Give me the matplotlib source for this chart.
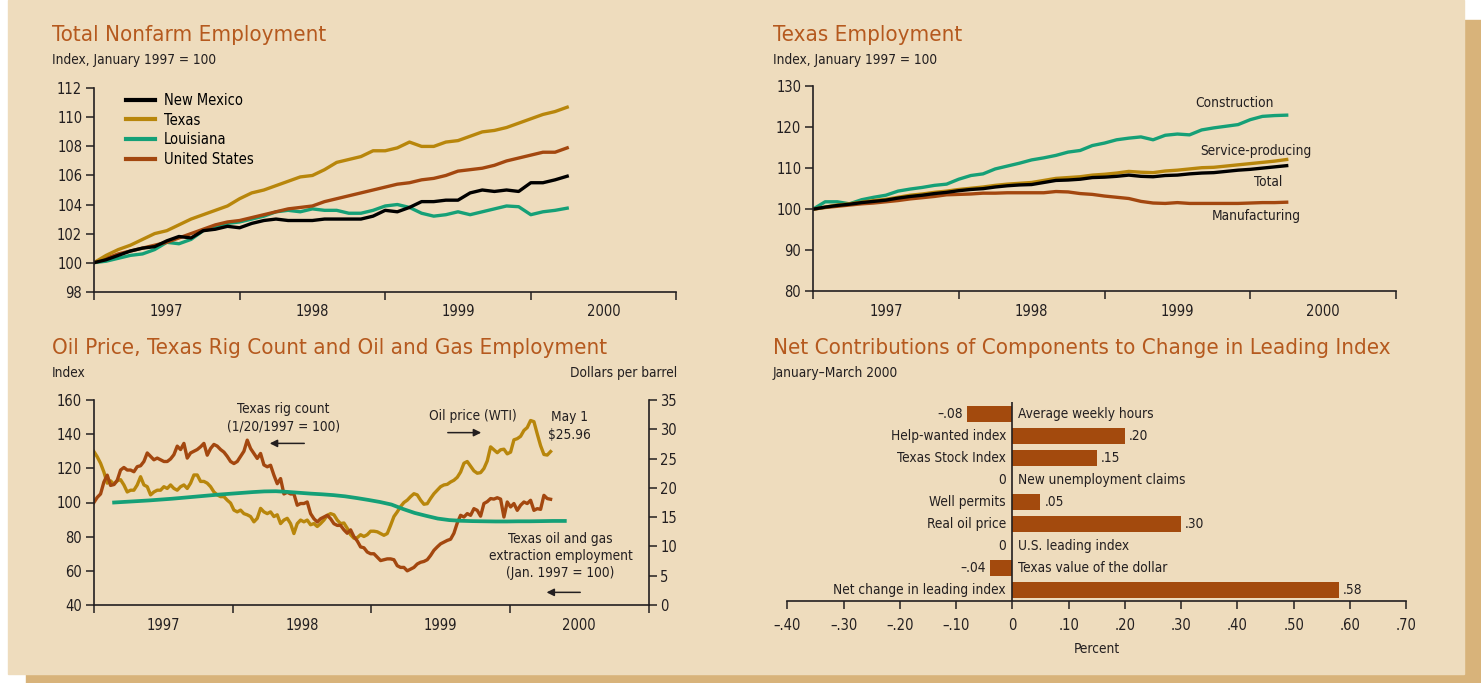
import numpy as np
import matplotlib
matplotlib.use("Agg")
import matplotlib.pyplot as plt
import matplotlib.font_manager as fm
from matplotlib.patches import Rectangle

narrow = [f for f in fm.fontManager.ttflist
          if (f.stretch in ('condensed', 'semi-condensed') or 'Narrow' in f.name
              or 'Condensed' in f.name) and f.style == 'normal'
          and f.weight in (400, 'normal', 'regular')]
if narrow:
    plt.rcParams['font.family'] = [narrow[0].name, 'DejaVu Sans']
    plt.rcParams['font.stretch'] = narrow[0].stretch
else:
    plt.rcParams['font.family'] = ['Roboto', 'DejaVu Sans']

W, H = 1481, 683
bg = '#EEDCBD'
shadow = '#D8B37A'
title_col = '#B5591E'
gold = '#B8860B'
rust = '#A3470F'
green = '#15A077'
ink = '#231F20'

# ---- Total nonfarm employment, monthly index (Jan 1997 = 100)
months = np.arange(40)
new_mexico = [100.0, 100.2, 100.5, 100.8, 101.0, 101.1, 101.5, 101.8, 101.7, 102.2,
              102.3, 102.5, 102.4, 102.7, 102.9, 103.0, 102.9, 102.9, 102.9, 103.0,
              103.0, 103.0, 103.0, 103.2, 103.6, 103.5, 103.8, 104.2, 104.2, 104.3,
              104.3, 104.8, 105.0, 104.9, 105.0, 104.9, 105.5, 105.5, 105.7, 105.95]
texas = [100.0, 100.5, 100.9, 101.2, 101.6, 102.0, 102.2, 102.6, 103.0, 103.3,
         103.6, 103.9, 104.4, 104.8, 105.0, 105.3, 105.6, 105.9, 106.0, 106.4,
         106.9, 107.1, 107.3, 107.7, 107.7, 107.9, 108.3, 108.0, 108.0, 108.3,
         108.4, 108.7, 109.0, 109.1, 109.3, 109.6, 109.9, 110.2, 110.4, 110.7]
louisiana = [100.0, 100.1, 100.3, 100.5, 100.6, 100.9, 101.4, 101.3, 101.6, 102.2,
             102.4, 102.7, 102.8, 103.0, 103.2, 103.5, 103.6, 103.5, 103.7, 103.6,
             103.6, 103.4, 103.4, 103.6, 103.9, 104.0, 103.8, 103.4, 103.2, 103.3,
             103.5, 103.3, 103.5, 103.7, 103.9, 103.85, 103.3, 103.5, 103.6, 103.75]
united_states = [100.0, 100.3, 100.6, 100.8, 101.0, 101.2, 101.4, 101.7, 102.0, 102.3,
                 102.6, 102.8, 102.9, 103.1, 103.3, 103.5, 103.7, 103.8, 103.9, 104.2,
                 104.4, 104.6, 104.8, 105.0, 105.2, 105.4, 105.5, 105.7, 105.8, 106.0,
                 106.3, 106.4, 106.5, 106.7, 107.0, 107.2, 107.4, 107.6, 107.6, 107.9]

# ---- Texas employment by sector
tx_construction = [100.0, 101.8, 101.8, 101.3, 102.3, 102.9, 103.4, 104.4, 104.9, 105.3,
                   105.8, 106.1, 107.3, 108.2, 108.6, 109.8, 110.5, 111.2, 112.0, 112.5,
                   113.1, 113.9, 114.3, 115.5, 116.1, 116.9, 117.3, 117.6, 116.9, 118.0,
                   118.3, 118.1, 119.3, 119.8, 120.2, 120.6, 121.8, 122.6, 122.8, 122.9]
tx_service = [100.0, 100.5, 101.0, 101.3, 101.7, 102.1, 102.4, 102.9, 103.4, 103.7,
              104.1, 104.4, 104.8, 105.1, 105.4, 105.8, 106.1, 106.3, 106.5, 107.0,
              107.5, 107.7, 107.9, 108.3, 108.5, 108.8, 109.2, 109.0, 108.9, 109.3,
              109.5, 109.8, 110.1, 110.2, 110.5, 110.8, 111.1, 111.4, 111.7, 112.1]
tx_total = [100.0, 100.5, 100.9, 101.2, 101.6, 101.9, 102.2, 102.7, 103.1, 103.4,
            103.8, 104.1, 104.5, 104.8, 105.0, 105.4, 105.7, 105.9, 106.0, 106.5,
            107.0, 107.1, 107.3, 107.7, 107.8, 108.0, 108.3, 108.0, 107.9, 108.2,
            108.3, 108.6, 108.8, 108.9, 109.2, 109.5, 109.7, 110.0, 110.3, 110.6]
tx_manufacturing = [100.0, 100.4, 100.7, 101.0, 101.3, 101.5, 101.8, 102.1, 102.5, 102.8,
                    103.1, 103.5, 103.6, 103.7, 103.9, 103.9, 104.0, 104.0, 104.0, 104.0,
                    104.3, 104.2, 103.8, 103.6, 103.2, 102.9, 102.6, 101.9, 101.5, 101.4,
                    101.6, 101.4, 101.4, 101.4, 101.4, 101.4, 101.5, 101.6, 101.6, 101.7]

# ---- Oil price, rig count (sampled every 1.25 weeks from Jan 1997)
rig_count = [100, 103, 105, 112, 116, 110, 110.5, 113, 119, 120.5,
             119, 119, 118, 121, 121.5, 124, 129, 127, 125, 126,
             125, 124, 124, 125.5, 128, 133, 131, 134.6, 126, 129,
             130, 131, 132.6, 134.6, 127.7, 131.6, 134, 133, 131, 129.5,
             127, 124, 122.8, 124, 127, 130, 136.5, 131.6, 128.7, 125.8,
             128.7, 122, 120.9, 121.8, 116, 111, 114, 105, 106, 105,
             105, 98.4, 99.4, 99.4, 100.3, 93.5, 90.5, 88.6, 90.5, 91.5,
             92.5, 90.5, 87.6, 86.6, 86.6, 84, 82,
             84, 80, 77.5, 74, 73.5, 71, 70, 70, 68, 66,
             66.5, 67, 67, 66.5, 63, 62, 62, 60, 61, 62,
             64, 65, 65.5, 66.5, 69, 72, 74, 75.8, 76.8, 77.8,
             78.5, 82, 88, 92.5, 91.5, 93.5, 92.5, 96.4, 95.4, 92,
             99.4, 100.5, 102.3, 102, 102.8, 102, 91.5, 100.3, 97.4, 99.4,
             95.4, 98.4, 100.3, 99.4, 101.3, 95.4, 96.4, 96, 104.2, 102.3,
             101.9]
oil_price = [26.2, 25.3, 24.2, 22.7, 20.8, 21.2, 20.6, 21.2, 21.4, 20.5,
             19.3, 19.6, 19.6, 20.5, 21.9, 20.5, 20.2, 18.8, 19.3, 19.6,
             19.6, 20.2, 19.9, 20.5, 19.9, 19.6, 20.2, 20.5, 19.9, 20.8,
             22.2, 22.2, 21.1, 21.1, 20.8, 20.2, 19.3, 18.8, 18.5, 18.5,
             17.9, 17.4, 16.2, 15.9, 16.2, 15.6, 15.4, 15.1, 14.2, 14.8,
             16.5, 15.9, 15.6, 15.9, 15.1, 15.4, 13.9, 14.5, 14.8, 13.9,
             12.2, 13.9, 14.5, 14.2, 14.5, 13.7, 13.9, 13.4, 13.9, 14.5,
             15.3, 15.6, 15.4, 14.5, 13.9, 14.0, 13.1,
             12.0, 11.4, 11.5, 12.0, 11.7, 12.0, 12.6, 12.6, 12.5, 12.2,
             11.9, 12.2, 13.6, 15.1, 15.9, 16.8, 17.5, 17.9, 18.5, 19.0,
             18.8, 17.9, 17.2, 17.3, 18.2, 19.0, 19.6, 20.2, 20.5, 20.6,
             21.0, 21.3, 21.8, 22.7, 24.2, 24.5, 23.7, 22.9, 22.5, 22.6,
             23.3, 24.6, 27.0, 26.5, 26.0, 26.5, 26.6, 25.8, 26.1, 28.2,
             28.4, 28.8, 29.8, 30.3, 31.5, 31.3, 29.2, 27.2, 25.7, 25.6,
             26.2]
# monthly oil and gas extraction employment, from Feb 1997
oil_gas_emp = [100.0, 100.4, 100.8, 101.2, 101.7, 102.2, 102.8, 103.4, 104.0, 104.6,
               105.1, 105.6, 106.1, 106.5, 106.6, 106.2, 105.7, 105.2, 104.8, 104.3,
               103.6, 102.6, 101.5, 100.3, 98.8, 96.2, 93.9, 92.2, 90.6, 89.7,
               89.3, 89.1, 89.0, 88.9, 88.9, 89.0, 89.0, 89.1, 89.2, 89.2]

# ---- Leading index components, Jan-Mar 2000
components = ['Average weekly hours', 'Help-wanted index', 'Texas Stock Index',
              'New unemployment claims', 'Well permits', 'Real oil price',
              'U.S. leading index', 'Texas value of the dollar', 'Net change in leading index']
contrib = [-0.08, 0.20, 0.15, 0.0, 0.05, 0.30, 0.0, -0.04, 0.58]
contrib_text = ['–.08', '.20', '.15', '0', '.05', '.30', '0', '–.04', '.58']
pct_ticks = [-0.4, -0.3, -0.2, -0.1, 0, 0.1, 0.2, 0.3, 0.4, 0.5, 0.6, 0.7]
pct_labels = ['–.40', '–.30', '–.20', '–.10', '0', '.10', '.20', '.30', '.40', '.50', '.60', '.70']
years = ['1997', '1998', '1999', '2000']

fs = 10.5      # tick labels, legend
afs = 9.8      # subtitles and annotations
tfs = 16
lw = 2.4

fig = plt.figure(figsize=(W / 100, H / 100), dpi=100, facecolor='white')
fig.patches.append(Rectangle((26 / W, 0), (W - 26) / W, (H - 20) / H,
                             transform=fig.transFigure, color=shadow, zorder=-10))
fig.patches.append(Rectangle((8 / W, 9 / H), (1464 - 8) / W, 674 / H,
                             transform=fig.transFigure, color=bg, zorder=-9))


def style(ax, right=False):
    ax.set_facecolor('none')
    ax.spines['top'].set_visible(False)
    if not right:
        ax.spines['right'].set_visible(False)
    for s in ax.spines.values():
        s.set_linewidth(1.2)
        s.set_color(ink)
    ax.tick_params(axis='y', direction='out', length=5.5, width=1.1, pad=3,
                   labelsize=fs, colors=ink)
    ax.tick_params(axis='x', which='major', direction='out', length=6, width=1.1,
                   labelbottom=False, colors=ink)
    ax.tick_params(axis='x', which='minor', length=0, pad=9, labelsize=fs, colors=ink)


def header(x, y, title, sub):
    fig.text(x / W, 1 - y / H, title, fontsize=tfs, color=title_col, va='center')
    fig.text(x / W, 1 - (y + 25) / H, sub, fontsize=afs, color=ink, va='center')


# panel 1
ax1 = fig.add_axes([94 / W, 391.3 / H, 582.4 / W, 203.4 / H])
style(ax1)
ax1.plot(months, louisiana, color=green, lw=lw, label='Louisiana')
ax1.plot(months, united_states, color=rust, lw=lw, label='United States')
ax1.plot(months, texas, color=gold, lw=lw, label='Texas')
ax1.plot(months, new_mexico, color='black', lw=lw, label='New Mexico')
ax1.set_xlim(0, 48)
ax1.set_ylim(98, 112)
ax1.set_yticks(range(98, 113, 2))
ax1.set_xticks([0, 12, 24, 36, 48])
ax1.set_xticks([6, 18, 30, 42], years, minor=True)
h, l = ax1.get_legend_handles_labels()
order = [3, 2, 0, 1]
leg = ax1.legend([h[i] for i in order], [l[i] for i in order], loc='upper left',
                 bbox_to_anchor=(0.055, 0.978), frameon=False, fontsize=fs,
                 handlelength=2.0, handletextpad=0.6, labelspacing=0.33,
                 borderpad=0, borderaxespad=0)
for ln in leg.get_lines():
    ln.set_linewidth(3.0)
header(52, 35, 'Total Nonfarm Employment', 'Index, January 1997 = 100')

# panel 2
ax2 = fig.add_axes([813 / W, 391.7 / H, 583 / W, 205.3 / H])
style(ax2)
ax2.plot(months, tx_manufacturing, color=rust, lw=lw)
ax2.plot(months, tx_construction, color=green, lw=lw)
ax2.plot(months, tx_service, color=gold, lw=lw)
ax2.plot(months, tx_total, color='black', lw=lw)
ax2.set_xlim(0, 48)
ax2.set_ylim(80, 130)
ax2.set_yticks(range(80, 131, 10))
ax2.set_xticks([0, 12, 24, 36, 48])
ax2.set_xticks([6, 18, 30, 42], years, minor=True)
ax2.text(37.95, 125.9, 'Construction', ha='right', va='center', fontsize=afs, color=ink)
ax2.text(31.9, 114.2, 'Service-producing', ha='left', va='center', fontsize=afs, color=ink)
ax2.text(36.3, 106.7, 'Total', ha='left', va='center', fontsize=afs, color=ink)
ax2.text(32.8, 98.3, 'Manufacturing', ha='left', va='center', fontsize=afs, color=ink)
header(773, 35, 'Texas Employment', 'Index, January 1997 = 100')

# panel 3
ax3 = fig.add_axes([93.9 / W, 78 / H, 554.7 / W, 205 / H])
ax3r = ax3.twinx()
style(ax3)
style(ax3r, right=True)
ax3r.spines['left'].set_visible(False)
ax3r.spines['bottom'].set_visible(False)
ax3.set_zorder(ax3r.get_zorder() + 1)
t_week = np.arange(len(rig_count)) * 1.25 / 52
t_emp = (1.75 + np.arange(len(oil_gas_emp))) / 12
ax3r.plot(t_week, oil_price, color=gold, lw=lw)
ax3.plot(t_week, rig_count, color=rust, lw=lw)
ax3.plot(t_emp, oil_gas_emp, color=green, lw=2.7)
ax3.set_xlim(0, 4)
ax3.set_ylim(40, 160)
ax3.set_yticks(range(40, 161, 20))
ax3r.set_ylim(0, 35)
ax3r.set_yticks(range(0, 36, 5))
ax3.set_xticks([0, 1, 2, 3, 4])
ax3.set_xticks([0.5, 1.5, 2.5, 3.5], years, minor=True)
arrow = dict(arrowstyle='-|>', color=ink, lw=1.1, mutation_scale=11)
ax3.text(1.366, 149.8, 'Texas rig count\n(1/20/1997 = 100)', ha='center', va='center',
         fontsize=afs, color=ink, linespacing=1.3)
ax3.annotate('', xy=(1.248, 134.6), xytext=(1.537, 134.6), arrowprops=arrow)
ax3.text(2.732, 150.6, 'Oil price (WTI)', ha='center', va='center', fontsize=afs, color=ink)
ax3.annotate('', xy=(2.813, 140.9), xytext=(2.532, 140.9), arrowprops=arrow)
ax3.text(3.43, 144.7, 'May 1\n$25.96', ha='center', va='center', fontsize=afs,
         color=ink, linespacing=1.3)
ax3.text(3.366, 68.7, 'Texas oil and gas\nextraction employment\n(Jan. 1997 = 100)',
         ha='center', va='center', fontsize=afs, color=ink, linespacing=1.3)
ax3.annotate('', xy=(3.244, 47.4), xytext=(3.527, 47.4), arrowprops=arrow)
fig.text(52 / W, 1 - 348 / H, 'Oil Price, Texas Rig Count and Oil and Gas Employment',
         fontsize=tfs, color=title_col, va='center')
fig.text(52 / W, 1 - 373 / H, 'Index', fontsize=afs, color=ink, va='center')
fig.text(677.6 / W, 1 - 373 / H, 'Dollars per barrel', fontsize=afs, color=ink,
         va='center', ha='right')

# panel 4
ax4 = fig.add_axes([787.3 / W, 82 / H, 618.8 / W, 199.3 / H])
ax4.set_facecolor('none')
for s in ['top', 'right', 'left']:
    ax4.spines[s].set_visible(False)
ax4.spines['bottom'].set_linewidth(1.2)
ax4.spines['bottom'].set_color(ink)
pos = np.arange(len(contrib))
ax4.barh(pos, contrib, height=0.71, color='#A34A0D')
ax4.axvline(0, color=ink, lw=1.2)
ax4.set_xlim(-0.4, 0.7)
ax4.set_ylim(8.5, -0.55)
ax4.set_yticks([])
ax4.set_xticks(pct_ticks, pct_labels)
ax4.tick_params(axis='x', direction='out', length=6, width=1.1, pad=6,
                labelsize=fs, colors=ink)
ax4.set_xlabel('Percent', fontsize=afs, color=ink, labelpad=7)
for i, (name, v, vt) in enumerate(zip(components, contrib, contrib_text)):
    if v > 0:
        ax4.annotate(name, (0, i), xytext=(-4.5, 0), textcoords='offset points',
                     ha='right', va='center', fontsize=afs, color=ink)
        ax4.annotate(vt, (v, i), xytext=(3, 0), textcoords='offset points',
                     ha='left', va='center', fontsize=afs, color=ink)
    else:
        ax4.annotate(name, (0, i), xytext=(4, 0), textcoords='offset points',
                     ha='left', va='center', fontsize=afs, color=ink)
        ax4.annotate(vt, (v, i), xytext=(-4.5 if v == 0 else -3, 0),
                     textcoords='offset points', ha='right', va='center',
                     fontsize=afs, color=ink)
fig.text(773 / W, 1 - 348 / H, 'Net Contributions of Components to Change in Leading Index',
         fontsize=tfs, color=title_col, va='center')
fig.text(773 / W, 1 - 373 / H, 'January–March 2000', fontsize=afs, color=ink, va='center')

fig.savefig('out.png', dpi=100, facecolor='white')
